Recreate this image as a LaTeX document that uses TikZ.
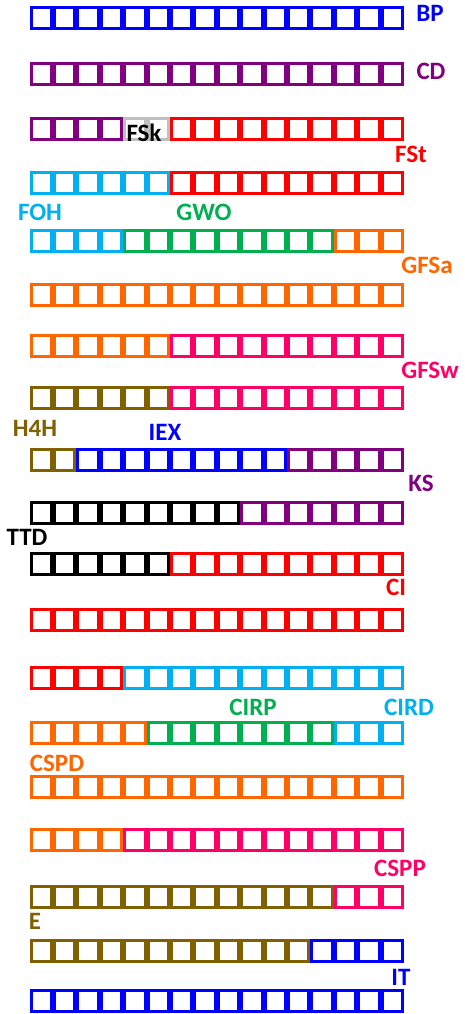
\documentclass[tikz,border=0pt]{standalone}
\usepackage{fontspec}
\setmainfont{Carlito}
\definecolor{cblue}{HTML}{0000FF}
\definecolor{cpurple}{HTML}{800080}
\definecolor{cred}{HTML}{FF0000}
\definecolor{ccyan}{HTML}{00B0F0}
\definecolor{cgreen}{HTML}{00B050}
\definecolor{corange}{HTML}{FF6600}
\definecolor{cpink}{HTML}{FF0066}
\definecolor{colive}{HTML}{806000}
\definecolor{cgray}{HTML}{BFBFBF}
\definecolor{cblack}{HTML}{000000}
\newcount\cellidx
\newcommand{\cellrow}[3]{%
  \global\cellidx=0
  \foreach \col/\n in {#3} {
    \foreach \k in {1,...,\n} {
      \global\advance\cellidx by 1
      \node[cellbox, draw=\col] (#1-\the\cellidx) at ({41.2+(\the\cellidx-1)*23.4}, #2) {};
    }
  }%
}
\begin{document}
\begin{tikzpicture}[x=1pt, y=-1pt,
  cellbox/.style={rectangle, fill=white, line width=3pt, minimum width=20.4pt, minimum height=20.4pt, inner sep=0pt},
  lbl/.style={font=\fontsize{25}{25}\selectfont\bfseries, inner sep=0pt, anchor=base}]
\useasboundingbox[fill=white] (0,0) rectangle (464,1014);
\cellrow{r1}{18}{cblue/16}
\cellrow{r2}{74}{cpurple/16}
\cellrow{r3}{129}{cpurple/4,cgray/2,cred/10}
\cellrow{r4}{183}{ccyan/6,cred/10}
\cellrow{r5}{241}{ccyan/4,cgreen/9,corange/3}
\cellrow{r6}{295}{corange/16}
\cellrow{r7}{346}{corange/6,cpink/10}
\cellrow{r8}{398}{colive/6,cpink/10}
\cellrow{r9}{460}{colive/2,cblue/9,cpurple/5}
\cellrow{r10}{513}{cblack/9,cpurple/7}
\cellrow{r11}{564}{cblack/6,cred/10}
\cellrow{r12}{620}{cred/16}
\cellrow{r13}{678}{cred/4,ccyan/12}
\cellrow{r14}{733}{corange/5,cgreen/8,ccyan/3}
\cellrow{r15}{787}{corange/16}
\cellrow{r16}{840}{corange/4,cpink/12}
\cellrow{r17}{897}{colive/13,cpink/3}
\cellrow{r18}{951}{colive/12,cblue/4}
\cellrow{r19}{1001}{cblue/16}
\node[lbl, text=cblue] (lBP) at (430,22) {BP};
\node[lbl, text=cpurple] (lCD) at (431,80) {CD};
\node[lbl, text=black] (lFSk) at (144,142) {FSk};
\node[lbl, text=cred] (lFSt) at (411,162) {FSt};
\node[lbl, text=ccyan] (lFOH) at (40,220) {FOH};
\node[lbl, text=cgreen] (lGWO) at (204,220) {GWO};
\node[lbl, text=corange] (lGFSa) at (427,273) {GFSa};
\node[lbl, text=cpink] (lGFSw) at (430,378) {GFSw};
\node[lbl, text=colive] (lH4H) at (35,436) {H4H};
\node[lbl, text=cblue] (lIEX) at (165,440) {IEX};
\node[lbl, text=cpurple] (lKS) at (421,491) {KS};
\node[lbl, text=black] (lTTD) at (27,545) {TTD};
\node[lbl, text=cred] (lCI) at (396,595) {CI};
\node[lbl, text=cgreen] (lCIRP) at (253,715) {CIRP};
\node[lbl, text=ccyan] (lCIRD) at (409,715) {CIRD};
\node[lbl, text=corange] (lCSPD) at (57,771) {CSPD};
\node[lbl, text=cpink] (lCSPP) at (400,876) {CSPP};
\node[lbl, text=colive] (lE) at (35,929) {E};
\node[lbl, text=cblue] (lIT) at (401,985) {IT};
\end{tikzpicture}
\end{document}
